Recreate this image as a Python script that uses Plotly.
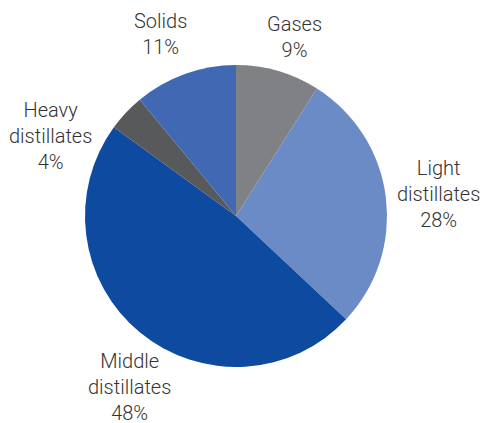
import plotly.graph_objects as go

# Product yield shares, listed clockwise from 12 o'clock
categories = ["Gases", "Light distillates", "Middle distillates", "Heavy distillates", "Solids"]
shares = [9, 28, 48, 4, 11]
label_text = ["Gases", "Light<br>distillates", "Middle<br>distillates", "Heavy<br>distillates", "Solids"]
colors = ["#808184", "#6b8bc7", "#0e4ba0", "#58595b", "#4169b3"]

W, H = 483, 423
cx, cy, r = 236, 216, 151

# label anchor points (pixels) for each slice
label_pos = [(294, 37), (438, 194), (129, 387), (50, 136), (160, 34)]

fig = go.Figure(
    go.Pie(
        labels=categories,
        values=shares,
        sort=False,
        direction="clockwise",
        rotation=0,
        marker=dict(colors=colors, line=dict(width=0)),
        textinfo="none",
        hoverinfo="label+percent",
        showlegend=False,
        domain=dict(x=[(cx - r) / W, (cx + r) / W], y=[(H - cy - r) / H, (H - cy + r) / H]),
    )
)

for txt, val, (px, py) in zip(label_text, shares, label_pos):
    fig.add_annotation(
        x=px / W,
        y=1 - py / H,
        xref="paper",
        yref="paper",
        text=f"{txt}<br>{val}%",
        showarrow=False,
        xanchor="center",
        yanchor="middle",
        align="center",
        font=dict(family="Roboto, Liberation Sans, sans-serif", size=20, weight=300, color="#333333"),
    )

fig.update_layout(
    width=W,
    height=H,
    margin=dict(l=0, r=0, t=0, b=0),
    paper_bgcolor="white",
    plot_bgcolor="white",
)

fig.write_html("out.html")
